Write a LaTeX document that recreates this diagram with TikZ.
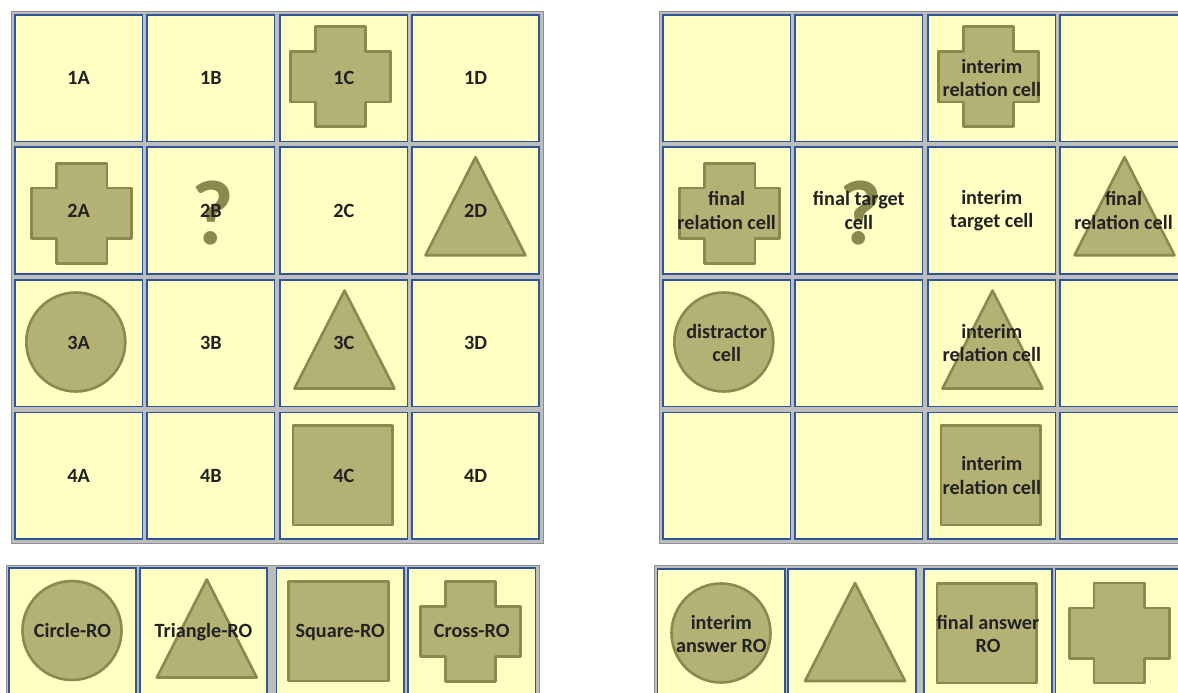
\documentclass[tikz,border=0pt]{standalone}
\usepackage{fontspec}
\setmainfont{Carlito}
\definecolor{cellfill}{HTML}{FFFFC4}
\definecolor{cellblue}{HTML}{2F5597}
\definecolor{tablegray}{HTML}{BDBDBD}
\definecolor{tableedge}{HTML}{8E8E8E}
\definecolor{shapefill}{HTML}{B3B174}
\definecolor{shapeedge}{HTML}{8A894F}
\definecolor{txt}{HTML}{222222}
\tikzset{
  tablebg/.style={fill=tablegray, draw=tableedge, line width=0.8pt},
  cellbox/.style={draw=cellblue, fill=cellfill, line width=1.8pt, minimum width=127.5pt, minimum height=126.5pt, inner sep=0pt},
  shp/.style={draw=shapeedge, fill=shapefill, line width=2.6pt, line join=round},
  lbl/.style={text=txt, font=\fontsize{20.2}{23.5}\selectfont\bfseries, align=center, inner sep=0pt},
  oneline/.style={text depth=0pt},
  qmark/.style={text=shapeedge, font=\fontsize{92}{92}\selectfont\bfseries, inner sep=0pt},
  crossp/.pic={\draw[shp] (-25.2,-50) -- (25.2,-50) -- (25.2,-25.2) -- (50,-25.2) -- (50,25.2) -- (25.2,25.2) -- (25.2,50) -- (-25.2,50) -- (-25.2,25.2) -- (-50,25.2) -- (-50,-25.2) -- (-25.2,-25.2) -- cycle;},
  trip/.pic={\draw[shp] (0,-49) -- (50,49) -- (-50,49) -- cycle;},
  circp/.pic={\draw[shp] (0,0) circle (49.5);},
  squp/.pic={\draw[shp] (-49.8,-49.8) rectangle (49.8,49.8);},
}
\begin{document}
\begin{tikzpicture}[x=1pt,y=-1pt]
\useasboundingbox (0,0) rectangle (1178,693);
\clip (0,0) rectangle (1178,693);
% table backgrounds
\draw[tablebg] (11,11) rectangle (543,543);
\draw[tablebg] (659,11) rectangle (1191,543);
\draw[tablebg] (6.5,565) rectangle (539,710);
\draw[tablebg] (654.5,565) rectangle (1190,710);
% grid cells
\foreach \c [count=\i] in {78.7,210.8,343.8,475.5}{
  \foreach \r [count=\j] in {78.2,210.5,343.2,475.7}{
    \node[cellbox] (L\j\i) at (\c,\r) {};
    \node[cellbox] (R\j\i) at (\c+648,\r) {};
  }
}
% bottom cells
\foreach \c [count=\i] in {72.5,203.5,340.2,471.7}{
  \node[cellbox] (LB\i) at (\c,630.9) {};
}
\foreach \c [count=\i] in {721.3,852,988,1119.3}{
  \node[cellbox] (RB\i) at (\c,632) {};
}
% shapes left grid
\pic (s1C) at (340.5,76.7) {crossp};
\pic (s2A) at (81.7,213.2) {crossp};
\pic (s2D) at (475.5,206.2) {trip};
\pic (s3A) at (75.8,342) {circp};
\pic (s3C) at (344.5,339.5) {trip};
\pic (s4C) at (342.9,475) {squp};
% shapes right grid
\pic (r13) at (988.5,76.7) {crossp};
\pic (r21) at (729.7,213.2) {crossp};
\pic (r24) at (1124.5,206.2) {trip};
\pic (r31) at (723.8,342) {circp};
\pic (r33) at (992.5,339.5) {trip};
\pic (r43) at (990.9,475) {squp};
% shapes bottom rows
\pic (b1) at (72,630.5) {circp};
\pic (b2) at (206.8,628.5) {trip};
\pic (b3) at (338.5,631) {squp};
\pic (b4) at (470.5,631.5) {crossp};
\pic (c1) at (721,633) {circp};
\pic (c2) at (855,632) {trip};
\pic (c3) at (986.6,633) {squp};
\pic (c4) at (1119.3,633) {crossp};
% question marks
\node[qmark] (q1) at (212.4,212.7) {?};
\node[qmark] (q2) at (860.4,212.7) {?};
% labels left grid
\node[lbl] (t1A) at (L11) {1A};
\node[lbl] (t1B) at (L12) {1B};
\node[lbl] (t1C) at (L13) {1C};
\node[lbl] (t1D) at (L14) {1D};
\node[lbl] (t2A) at (L21) {2A};
\node[lbl] (t2B) at (L22) {2B};
\node[lbl] (t2C) at (L23) {2C};
\node[lbl] (t2D) at (L24) {2D};
\node[lbl] (t3A) at (L31) {3A};
\node[lbl] (t3B) at (L32) {3B};
\node[lbl] (t3C) at (L33) {3C};
\node[lbl] (t3D) at (L34) {3D};
\node[lbl] (t4A) at (L41) {4A};
\node[lbl] (t4B) at (L42) {4B};
\node[lbl] (t4C) at (L43) {4C};
\node[lbl] (t4D) at (L44) {4D};
% labels right grid
\node[lbl] (u13) at (R13) {interim\\relation cell};
\node[lbl] (u21) at (R21) {final\\relation cell};
\node[lbl] (u22) at (R22) {final target\\cell};
\node[lbl] (u23) at (R23) {interim\\target cell};
\node[lbl] (u24) at (R24) {final\\relation cell};
\node[lbl] (u31) at (R31) {distractor\\cell};
\node[lbl] (u33) at (R33) {interim\\relation cell};
\node[lbl] (u43) at (R43) {interim\\relation cell};
% labels bottom rows
\node[lbl,oneline] (v1) at (LB1) {Circle-RO};
\node[lbl,oneline] (v2) at (LB2) {Triangle-RO};
\node[lbl,oneline] (v3) at (LB3) {Square-RO};
\node[lbl,oneline] (v4) at (LB4) {Cross-RO};
\node[lbl] (w1) at ([yshift=-2pt]RB1.center) {interim\\answer RO};
\node[lbl] (w3) at ([yshift=-2pt]RB3.center) {final answer\\RO};
\end{tikzpicture}
\end{document}
